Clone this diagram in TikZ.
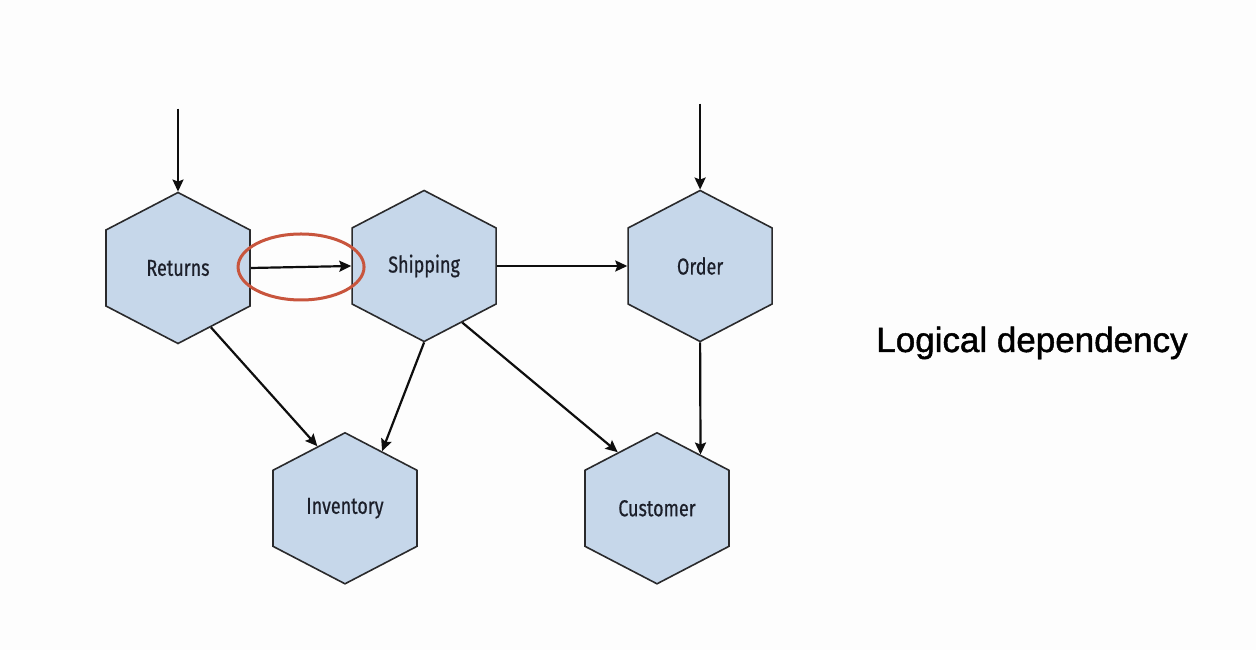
\documentclass[tikz,border=0pt]{standalone}
\usepackage{fontspec}
\setmainfont{Liberation Sans}
\newfontfamily\hexfont[FakeStretch=0.78,FakeBold=0.6]{Fira Sans}
\newfontfamily\titlefont[FakeBold=1.3]{Liberation Sans}
\usepackage{xcolor}
\definecolor{cHex}{HTML}{C6D7EA}
\definecolor{cEdge}{HTML}{2A2A2C}
\definecolor{cText}{HTML}{1C1F2A}
\definecolor{cArrow}{HTML}{0E0E0E}
\definecolor{cMark}{HTML}{C8553D}
\definecolor{cBack}{HTML}{FDFDFD}
\usepackage{tikz}
\usetikzlibrary{positioning,arrows.meta,shapes.geometric,shapes.symbols,calc}
\tikzset{
  node-hex/.style={shape=signal,signal to=north and south,
    signal pointer angle=125,draw=cEdge,line width=1.6pt,fill=cHex,
    text width=144pt,align=center,minimum height=151pt,inner sep=0pt,
    font=\hexfont\fontsize{23}{27}\selectfont,text=cText},
  node-mark/.style={ellipse,draw=cMark,line width=3pt,
    minimum width=126pt,minimum height=66pt,inner sep=0pt},
  node-title/.style={font=\titlefont\fontsize{35}{42}\selectfont,text=black},
  arrow/.style={-{Stealth[length=12pt,width=11pt,inset=2pt]},
    line width=2.2pt,draw=cArrow},
}

\begin{document}
\begin{tikzpicture}[x=1pt,y=1pt]
  \fill[cBack] (0,0) rectangle (1256,650);
  \useasboundingbox (0,0) rectangle (1256,650);
  % top row
  \node[node-hex] (ret) at (178,382) {Returns};
  \node[node-hex,right=100.5pt of ret,yshift=2pt] (shp) {Shipping};
  \node[node-hex,right=130.4pt of shp] (ord) {Order};
  % bottom row
  \node[node-hex,below=87.5pt of ret,xshift=167pt] (inv) {Inventory};
  \node[node-hex,right=166.4pt of inv] (cus) {Customer};
  \node[node-title,anchor=base] (title) at (1032,298) {Logical dependency};
  % incoming ends
  \coordinate (ret-in) at ([yshift=83pt]ret.90);
  \coordinate (ord-in) at ([yshift=86pt]ord.90);
  % connectors
  \draw[arrow] (ret-in) -- (ret.90);
  \draw[arrow] (ord-in) -- (ord.90);
  \draw[arrow] (ret.east) -- (shp.west);
  \draw[arrow] (shp.east) -- (ord.west);
  \draw[arrow] (ret.-61) -- (inv.114);
  \draw[arrow] (shp.-90) -- (inv.57);
  \draw[arrow] (shp.-56) -- (cus.125);
  \draw[arrow] (ord.-90) -- (cus.51);
  % highlighted dependency
  \node[node-mark] (mark) at ($(ret.east)!0.5!(shp.west)$) {};
\end{tikzpicture}
\end{document}
